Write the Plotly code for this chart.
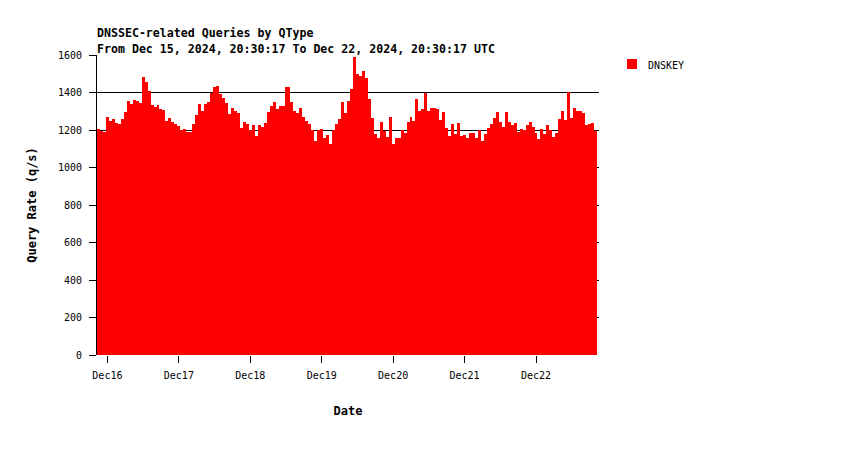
import plotly.graph_objects as go
import pandas as pd

# Hourly DNSKEY query rates (q/s), starting Dec 15 21:00 UTC
start_hour = "2024-12-15 21:00:00"
dnskey = [
    1205, 1195, 1190, 1269, 1246, 1259, 1239, 1232, 1260, 1294, 1356, 1340, 1360, 1356,
    1342, 1484, 1456, 1408, 1333, 1321, 1333, 1310, 1308, 1250, 1264, 1243, 1232, 1220,
    1200, 1205, 1190, 1192, 1230, 1280, 1338, 1300, 1340, 1349, 1400, 1429, 1435, 1390,
    1372, 1342, 1285, 1316, 1300, 1290, 1210, 1243, 1230, 1200, 1225, 1168, 1225, 1215,
    1240, 1298, 1330, 1349, 1312, 1330, 1327, 1432, 1432, 1351, 1303, 1290, 1320, 1271,
    1250, 1230, 1200, 1140, 1200, 1205, 1160, 1175, 1125, 1202, 1232, 1260, 1351, 1291,
    1354, 1420, 1590, 1500, 1490, 1515, 1480, 1365, 1262, 1180, 1160, 1245, 1195, 1165,
    1271, 1125, 1157, 1160, 1200, 1185, 1245, 1270, 1250, 1365, 1300, 1310, 1399, 1300,
    1316, 1316, 1310, 1255, 1298, 1210, 1170, 1230, 1180, 1239, 1170, 1175, 1157, 1186,
    1186, 1160, 1200, 1140, 1180, 1210, 1230, 1266, 1298, 1245, 1218, 1298, 1245, 1227,
    1240, 1190, 1203, 1200, 1225, 1243, 1215, 1182, 1150, 1205, 1180, 1227, 1200, 1163,
    1182, 1259, 1300, 1253, 1404, 1265, 1316, 1300, 1300, 1291, 1227, 1230, 1236, 1195,
]
series_name = "DNSKEY"
series_color = "#ff0000"
y_ticks = [0, 200, 400, 600, 800, 1000, 1200, 1400, 1600]
title_line1 = "DNSSEC-related Queries by QType"
title_line2 = "From Dec 15, 2024, 20:30:17 To Dec 22, 2024, 20:30:17 UTC"

times = pd.date_range(start_hour, periods=len(dnskey), freq="h")

MONO = "DejaVu Sans Mono"
L, T, PW, PH = 89, 47, 502, 300

fig = go.Figure()
fig.add_trace(go.Bar(
    x=times, y=dnskey, name=series_name,
    marker=dict(color=series_color, line=dict(width=0)),
    width=3600 * 1000,
    showlegend=False,
))

fig.update_layout(
    width=850, height=450,
    paper_bgcolor="white", plot_bgcolor="white",
    margin=dict(l=L, r=850 - L - PW, t=T, b=450 - T - PH, autoexpand=False),
    bargap=0,
    showlegend=False,
    font=dict(family=MONO, size=10, color="black"),
)

fig.update_xaxes(
    type="date",
    range=["2024-12-15 20:30:17", "2024-12-22 21:10:00"],
    tick0="2024-12-16", dtick=86400000, tickformat="%b%d",
    ticks="outside", ticklen=7, tickcolor="black", tickwidth=1,
    ticklabelstandoff=4,
    showgrid=False, showline=False, zeroline=False,
    tickfont=dict(family=MONO, size=10, color="black"),
    title=dict(text="<b>Date</b>", font=dict(family=MONO, size=12, color="black"), standoff=26),
)
fig.update_yaxes(
    range=[0, 1600], tickvals=y_ticks,
    ticks="outside", ticklen=7, tickcolor="black", tickwidth=1,
    ticklabelstandoff=5,
    showgrid=True, gridcolor="black", gridwidth=1,
    showline=True, linecolor="black", linewidth=1,
    zeroline=False,
    tickfont=dict(family=MONO, size=10, color="black"),
    title=dict(text="<b>Query Rate (q/s)</b>", font=dict(family=MONO, size=12, color="black"), standoff=18),
)

fig.add_annotation(text="<b>" + title_line1 + "</b>", xref="paper", yref="paper",
                   x=0, y=1, xanchor="left", yanchor="bottom", xshift=-2, yshift=13, showarrow=False,
                   font=dict(family=MONO, size=11.6, color="black"))
fig.add_annotation(text="<b>" + title_line2 + "</b>", xref="paper", yref="paper",
                   x=0, y=1, xanchor="left", yanchor="bottom", xshift=-2, yshift=-3, showarrow=False,
                   font=dict(family=MONO, size=11.6, color="black"))

# Legend (drawn manually to match the reference layout)
def px_x(page_x):
    return (page_x - 8 - L) / PW

def px_y(page_y):
    return (T + PH - (page_y - 8)) / PH

fig.add_shape(type="rect", xref="paper", yref="paper",
              x0=px_x(627), x1=px_x(637), y0=px_y(69), y1=px_y(59),
              fillcolor=series_color, line=dict(width=0))
fig.add_annotation(text=series_name, xref="paper", yref="paper",
                   x=px_x(646), y=px_y(65), xanchor="left", yanchor="middle",
                   showarrow=False, font=dict(family=MONO, size=10, color="black"))

fig.write_html("out.html")
